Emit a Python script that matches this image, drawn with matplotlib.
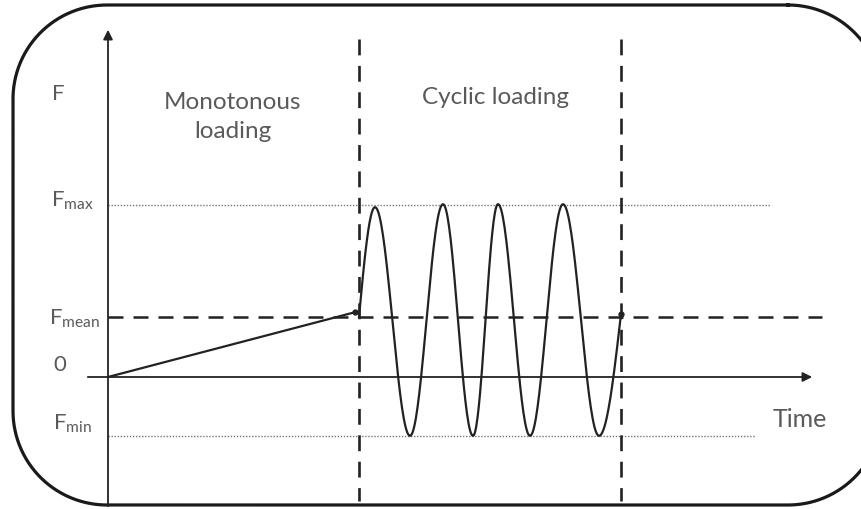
import numpy as np
import matplotlib
matplotlib.use("Agg")
import matplotlib.pyplot as plt

# force levels (chart units)
f_max = 2.87
f_mean = 1.0
f_min = -0.98

# monotonous ramp
ramp_time = [0.0, 4.94]
ramp_force = [0.0, 1.08]

# cyclic part: start, extrema, end
t_start = 5.02
t_end = 10.26
peak_times = [5.34, 6.70, 7.80, 9.10]
peak_force = [2.83, 2.88, 2.88, 2.88]
trough_times = [6.04, 7.30, 8.44, 9.82]
trough_force = [-0.98, -0.98, -0.98, -0.98]
end_force = 1.05

level_labels = ["max", "mean", "min"]
phase_labels = ["Monotonous\nloading", "Cyclic loading"]

FONT = "Lato"
TXT = "#5a5a5a"
INK = "#222222"
plt.rcParams["font.family"] = [FONT, "DejaVu Sans"]
plt.rcParams["mathtext.fontset"] = "custom"
plt.rcParams["mathtext.rm"] = FONT
plt.rcParams["mathtext.it"] = FONT


def wave_curve():
    keys_t = [t_start]
    keys_f = [f_mean]
    for pt, pf, tt, tf in zip(peak_times, peak_force, trough_times, trough_force):
        keys_t += [pt, tt]
        keys_f += [pf, tf]
    keys_t.append(t_end)
    keys_f.append(end_force)
    xs, ys = [], []
    n = len(keys_t) - 1
    for i in range(n):
        s = np.linspace(0, 1, 40)
        a, b = keys_f[i], keys_f[i + 1]
        if i == 0:
            shape = np.sin(np.pi / 2 * s)
        elif i == n - 1:
            shape = 1 - np.cos(np.pi / 2 * s)
        else:
            shape = (1 - np.cos(np.pi * s)) / 2
        xs.append(keys_t[i] + (keys_t[i + 1] - keys_t[i]) * s)
        ys.append(a + (b - a) * shape)
    return np.concatenate(xs), np.concatenate(ys)


def rounded_outline(x0, y0, x1, y1, r, cut=864):
    # corners in pixel space (y down); part beyond the image edge dropped
    pts = []
    for cx, cy, a0 in [(x1 - r, y0 + r, -90), (x1 - r, y1 - r, 0),
                       (x0 + r, y1 - r, 90), (x0 + r, y0 + r, 180)]:
        ang = np.radians(np.linspace(a0, a0 + 90, 60))
        pts.append(np.c_[cx + r * np.cos(ang), cy + r * np.sin(ang)])
    pts = np.vstack(pts + [pts[0][:1]])
    pts[pts[:, 0] > cut] = np.nan
    return pts[:, 0], pts[:, 1]


fig = plt.figure(figsize=(8.61, 5.10), dpi=100)

# frame layer in pixel units
frame = fig.add_axes([0, 0, 1, 1])
frame.set_xlim(0, 861)
frame.set_ylim(510, 0)
frame.axis("off")
bx, by = rounded_outline(13, 6, 882, 506, 94)
frame.plot(bx, by, color="#1a1a1a", lw=2.3)

ax = fig.add_axes([0, 0, 1, 1])
ax.patch.set_alpha(0)
ax.axis("off")
ax.set_xlim(-108 / 50, (861 - 108) / 50)
ax.set_ylim(-(510 - 378) / 60, 378 / 60)
xmin, xmax = ax.get_xlim()
ymin, ymax = ax.get_ylim()


def px(x):
    return (x - 108) / 50


def py(y):
    return (378 - y) / 60


# axes with arrows
ax.annotate("", xy=(0, py(28)), xytext=(0, ymin),
            arrowprops=dict(arrowstyle="-|>", color=INK, lw=1.3, mutation_scale=14))
ax.annotate("", xy=(px(815), 0), xytext=(px(85), 0),
            arrowprops=dict(arrowstyle="-|>", color=INK, lw=1.3, mutation_scale=14))

# reference levels
ax.plot([0, px(770)], [f_max, f_max], ls=(0, (1, 1.2)), color="#777777", lw=1.0)
ax.plot([0, px(755)], [f_min, f_min], ls=(0, (1, 1.2)), color="#777777", lw=1.0)
ax.plot([0, px(822)], [f_mean, f_mean], ls=(0, (6, 4)), color=INK, lw=1.8)

# phase separators
for tx in [t_start, t_end]:
    ax.plot([tx, tx], [py(40), py(502)], ls=(0, (6, 4)), color=INK, lw=1.9)

# loading history
ax.plot(ramp_time, ramp_force, color=INK, lw=1.6)
wx, wy = wave_curve()
ax.plot(wx, wy, color=INK, lw=1.6)
ax.plot([ramp_time[-1], t_end], [ramp_force[-1], end_force], "o", color=INK, ms=3.5)

# labels
ax.text(px(58), py(94), "F", color=TXT, fontsize=16, ha="center", va="center")
ax.text(px(51), py(207), r"F$_{\mathrm{%s}}$" % level_labels[0], color=TXT,
        fontsize=16, ha="left", va="baseline")
ax.text(px(49), py(325), r"F$_{\mathrm{%s}}$" % level_labels[1], color=TXT,
        fontsize=16, ha="left", va="baseline")
ax.text(px(60), py(365), "0", color=TXT, fontsize=16, ha="center", va="center")
ax.text(px(53), py(430), r"F$_{\mathrm{%s}}$" % level_labels[2], color=TXT,
        fontsize=16, ha="left", va="baseline")
ax.text(px(800), py(420), "Time", color=TXT, fontsize=18, ha="center", va="center")

ax.text(px(233), py(117), phase_labels[0], color=TXT, fontsize=17.5,
        ha="center", va="center", linespacing=1.5)
ax.text(px(495), py(98), phase_labels[1], color=TXT, fontsize=17.5,
        ha="center", va="center")

fig.savefig("out.png", dpi=100)
